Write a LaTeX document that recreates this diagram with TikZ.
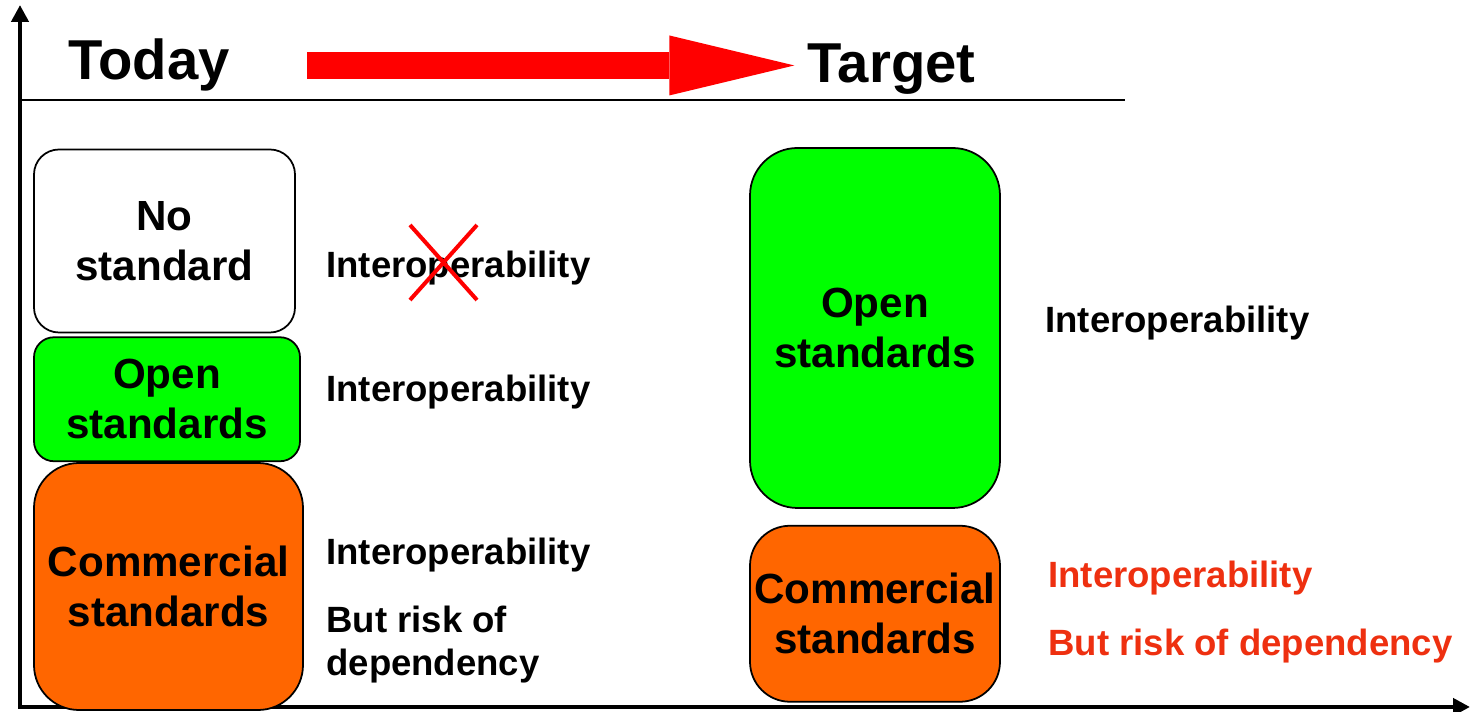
\documentclass[tikz,border=0pt]{standalone}
\usepackage{fontspec}
\setmainfont{Liberation Sans}
\usepackage{xcolor}
\usepackage{tikz}
\usetikzlibrary{arrows.meta,positioning}
\definecolor{OpenGreen}{RGB}{0,255,0}
\definecolor{CommOrange}{RGB}{255,102,0}
\definecolor{ArrowRed}{RGB}{255,0,0}
\definecolor{RiskRed}{RGB}{238,48,16}

\begin{document}
\begin{tikzpicture} [>=Triangle, line join=miter,
	   every node/.style={inner sep=0pt},
	   stdbox/.style 2 args = {rectangle, draw=black, line width=1pt, fill=#1,
	                           rounded corners=#2, align=center,
	                           font=\fontsize{24}{28.5}\selectfont\bfseries},
	   remark/.style = {align=left, font=\fontsize{20.8}{24}\selectfont\bfseries},
	   heading/.style = {font=\fontsize{32}{38}\selectfont\bfseries},
	   axis/.style = {line width=0.09cm,
	                  {Triangle[length=0.34cm,width=0.34cm]}-{Triangle[length=0.34cm,width=0.34cm]}},
	   bigarrow/.style = {ArrowRed, line width=0.54cm,
	                      -{Triangle[length=2.5cm,width=1.2cm,line width=0pt]}}]
	\useasboundingbox (0,0) rectangle (29.4,14.24);

	%% Axes
	\coordinate (origin) at (0.4,0.1);
	\coordinate (ytip) at (0.4,14.14);
	\coordinate (xtip) at (29.4,0.1);
	\coordinate (ruleend) at (22.5,12.24);
	\draw[axis] (ytip) -- (origin) -- (xtip);
	\draw[line width=0.05cm] (origin |- ruleend) -- (ruleend);

	%% Headings
	\node [heading,anchor=base] (today) at (2.98,12.64) {Today};
	\node [heading,anchor=base] (target) at (17.83,12.58) {Target};
	\draw[bigarrow,shorten <=1.54cm,shorten >=0.26cm] (today.east) -- (target.west |- today.east);

	%% Today
	\node [stdbox={white}{0.5cm},minimum width=5.22cm,minimum height=3.66cm] (nostd) at (3.29,9.42) {No\\standard};
	\node [stdbox={OpenGreen}{0.4cm},minimum width=5.32cm,minimum height=2.48cm,
	       below=0.06cm of nostd.south west,anchor=north west] (openL) {Open\\standards};
	\node [stdbox={CommOrange}{0.9cm},minimum width=5.38cm,minimum height=4.94cm,
	       below=0cm of openL.south west,anchor=north west] (commL) {Commercial\\standards};

	\node [remark,anchor=base west] (interNo) at (6.52,8.68) {Interoperability};
	\node [remark,anchor=base west] (interOpen) at (6.52,6.2) {Interoperability};
	\node [remark,anchor=base west] (interComm) at (6.52,2.94) {Interoperability};
	\node [remark,anchor=north west] (riskComm) at (6.52,2.12) {But risk of\\dependency};
	\draw[ArrowRed,line width=0.08cm] (8.2,9.74) -- (9.54,8.24) (9.54,9.74) -- (8.2,8.24);

	%% Target
	\node [stdbox={OpenGreen}{0.95cm},minimum width=5cm,minimum height=7.2cm] (openR) at (17.5,7.68) {Open\\standards};
	\node [stdbox={CommOrange}{0.8cm},minimum width=5cm,minimum height=3.52cm,below=0.32cm of openR] (commR) {Commercial\\standards};

	\node [remark,anchor=base west] (interOpenR) at (20.9,7.58) {Interoperability};
	\node [remark,RiskRed,anchor=base west] (interCommR) at (20.96,2.48) {Interoperability};
	\node [remark,RiskRed,anchor=base west] (riskCommR) at (20.96,1.12) {But risk of dependency};
\end{tikzpicture}
\end{document}
